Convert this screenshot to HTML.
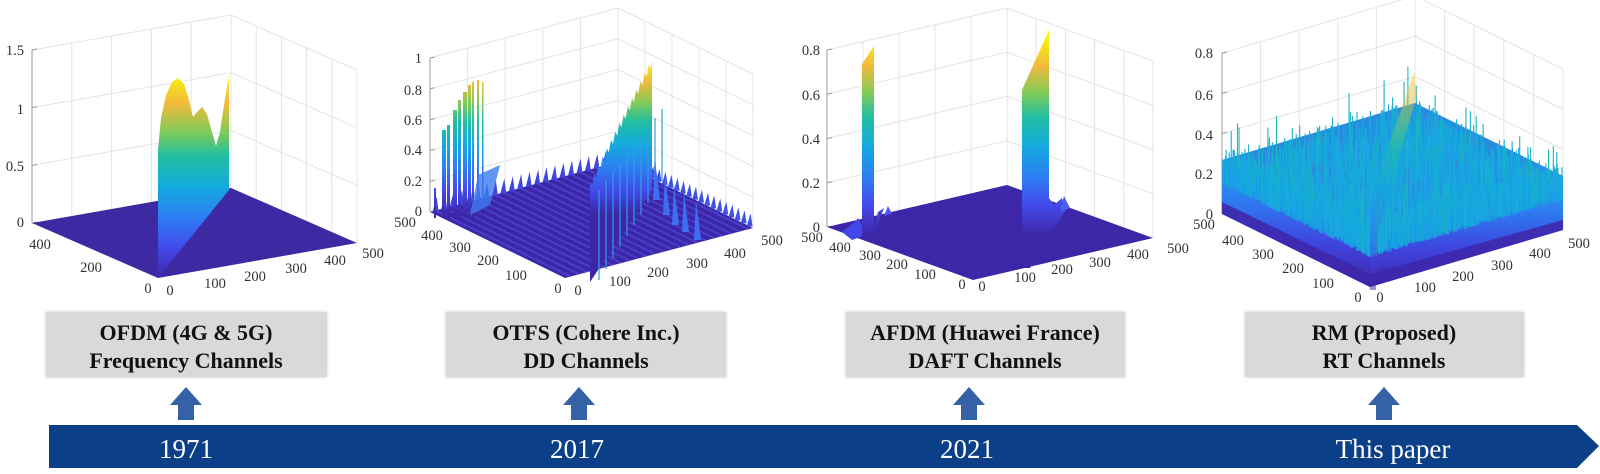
<!DOCTYPE html>
<html><head><meta charset="utf-8"><style>
html,body{margin:0;padding:0;background:#fff;width:1600px;height:474px;overflow:hidden}
svg{display:block}
text{font-family:"Liberation Serif",serif}
</style></head><body>
<svg id="s" width="1600" height="474" viewBox="0 0 1600 474" xmlns="http://www.w3.org/2000/svg">
<defs>
<filter id="sh" x="-5%" y="-10%" width="110%" height="120%"><feGaussianBlur stdDeviation="1.5"/></filter>
<linearGradient id="f4" x1="0" y1="1" x2="0" y2="0">
<stop offset="0" stop-color="#3e26a8"/><stop offset="0.35" stop-color="#3f45e0"/><stop offset="0.7" stop-color="#2c7ff0"/><stop offset="1" stop-color="#1aa6de"/>
</linearGradient>
</defs>
<g id="charts"></g>
<g>
<rect x="46" y="312" width="281" height="65" fill="#c8c8c8" filter="url(#sh)"/>
<rect x="46" y="312" width="281" height="65" fill="#d9d9d9"/>
<rect x="446" y="312" width="280" height="65" fill="#c8c8c8" filter="url(#sh)"/>
<rect x="446" y="312" width="280" height="65" fill="#d9d9d9"/>
<rect x="846" y="312" width="279" height="65" fill="#c8c8c8" filter="url(#sh)"/>
<rect x="846" y="312" width="279" height="65" fill="#d9d9d9"/>
<rect x="1245" y="312" width="279" height="65" fill="#c8c8c8" filter="url(#sh)"/>
<rect x="1245" y="312" width="279" height="65" fill="#d9d9d9"/>
</g>
<g font-weight="bold" font-size="22" fill="#111" text-anchor="middle">
<text x="186" y="340">OFDM (4G &amp; 5G)</text><text x="186" y="368">Frequency Channels</text>
<text x="586" y="340">OTFS (Cohere Inc.)</text><text x="586" y="368">DD Channels</text>
<text x="985" y="340">AFDM (Huawei France)</text><text x="985" y="368">DAFT Channels</text>
<text x="1384" y="340">RM (Proposed)</text><text x="1384" y="368">RT Channels</text>
</g>
<g fill="#3562a6" id="arrows"></g>
<polygon points="49,425 1577,425 1599,446 1577,468 49,468" fill="#0b3f87"/>
<g fill="#fff" font-size="27" text-anchor="middle">
<text x="186" y="458">1971</text>
<text x="577" y="458">2017</text>
<text x="967" y="458">2021</text>
<text x="1393" y="458">This paper</text>
</g>
</svg>
<script>
(function(){
var NS="http://www.w3.org/2000/svg";
var svg=document.getElementById('s'),defs=svg.querySelector('defs'),G=document.getElementById('charts');
function el(t,a,p){var e=document.createElementNS(NS,t);for(var k in a)e.setAttribute(k,a[k]);(p||G).appendChild(e);return e;}
function pt(a){return a.map(function(p){return p[0].toFixed(1)+','+p[1].toFixed(1)}).join(' ');}
var stops=[[0,'#3e26a8'],[0.15,'#4349ea'],[0.3,'#2c7ff2'],[0.45,'#14aadf'],[0.6,'#22bfa2'],[0.72,'#80cb58'],[0.86,'#f2b93c'],[1,'#f9f20f']];
function grad(id,y1,y2){var g=el('linearGradient',{id:id,gradientUnits:'userSpaceOnUse',x1:0,y1:y1,x2:0,y2:y2},defs);
stops.forEach(function(s){el('stop',{offset:s[0],'stop-color':s[1]},g);});}
function hex(c){return [parseInt(c.substr(1,2),16),parseInt(c.substr(3,2),16),parseInt(c.substr(5,2),16)];}
function cmap(t){t=Math.max(0,Math.min(1,t));for(var i=1;i<stops.length;i++){if(t<=stops[i][0]){var a=stops[i-1],b=stops[i],f=(t-a[0])/(b[0]-a[0]);var x=hex(a[1]),y=hex(b[1]);return 'rgb('+[0,1,2].map(function(k){return Math.round(x[k]+(y[k]-x[k])*f)}).join(',')+')';}}return stops[stops.length-1][1];}
function lerp(a,b,t){return [a[0]+(b[0]-a[0])*t,a[1]+(b[1]-a[1])*t];}
function axes(L,F,R,H,nz){
  var B=[L[0]+R[0]-F[0],L[1]+R[1]-F[1]];
  var c='#e4e4e4';
  for(var k=1;k<=nz;k++){var h=H*k/nz;
    el('line',{x1:L[0],y1:L[1]-h,x2:B[0],y2:B[1]-h,stroke:c,'stroke-width':1});
    el('line',{x1:B[0],y1:B[1]-h,x2:R[0],y2:R[1]-h,stroke:c,'stroke-width':1});}
  for(var t=0.2;t<1.01;t+=0.2){var p=lerp(L,B,t),q=lerp(B,R,t);
    el('line',{x1:p[0],y1:p[1],x2:p[0],y2:p[1]-H,stroke:c});
    el('line',{x1:q[0],y1:q[1],x2:q[0],y2:q[1]-H,stroke:c});}
  el('line',{x1:R[0],y1:R[1],x2:R[0],y2:R[1]-H,stroke:c});
  el('line',{x1:L[0],y1:L[1],x2:L[0],y2:L[1]-H,stroke:'#9a9a9a'});
  for(var k=0;k<=nz;k++){el('line',{x1:L[0],y1:L[1]-H*k/nz,x2:L[0]+5,y2:L[1]-H*k/nz-1,stroke:'#9a9a9a'});}
  return B;
}
function labels(arr,anchor){arr.forEach(function(a){var t=el('text',{x:a[1],y:a[2]+5,'font-size':14.5,fill:'#333','text-anchor':anchor||'middle'});t.textContent=a[0];});}
function rnd(seed){var s=seed;return function(){s=(s*16807)%2147483647;return (s-1)/2147483646;};}

/* ---------- Chart 1 ---------- */
var L=[32,223],F=[158,278],R=[357,243];
var B=axes(L,F,R,173,3);
el('polygon',{points:pt([L,F,R,B]),fill:'#3d2aa2'});
grad('g1',278,75);
el('polygon',{points:pt([[158,278],[158,150],[161,118],[166,95],[172,82],[178,78],[184,84],[189,100],[193,117],[197,112],[202,107],[207,114],[212,132],[216,146],[220,132],[224,105],[229,75],[229,190]]),fill:'url(#g1)'});
labels([['1.5',24,50],['1',24,109],['0.5',24,166],['0',24,222]],'end');
labels([['400',40,244],['200',91,267],['0',148,288],['0',170,290],['100',215,283],['200',255,276],['300',296,268],['400',335,260],['500',373,253]]);

/* ---------- Chart 2 ---------- */
L=[430,212];F=[565,278];R=[753,228];
B=axes(L,F,R,154,5);
el('polygon',{points:pt([L,F,R,B]),fill:'#3e26a8'});
grad('g2',214,60);
for(var t=0.03;t<1;t+=0.045){var p=lerp(L,B,t),q=lerp(F,R,t);
  el('line',{x1:p[0],y1:p[1],x2:q[0],y2:q[1],stroke:'#4f5cea','stroke-width':1.6,opacity:0.55});
  var r=lerp(B,R,t); el('polygon',{points:pt([[r[0]-3,r[1]],[r[0]+1,r[1]-13],[r[0]+3,r[1]]]),fill:'#3f52e6'});
  var s2=lerp(L,B,t); el('polygon',{points:pt([[s2[0]-3,s2[1]+1],[s2[0]+1,s2[1]-14],[s2[0]+3,s2[1]+1]]),fill:'#4046e0'});}
[[434,188,2],[442,130,4],[447,125,3],[453,110,4],[458,100,3],[463,92,4],[468,85,3],[472,82,2],[477,80,2],[482,82,1.5]].forEach(function(s){
  el('rect',{x:s[0],y:s[1],width:s[2],height:218-s[1],fill:'url(#g2)'});});
el('polygon',{points:pt([[470,215],[478,175],[500,165],[490,205]]),fill:'#3c7cf0',opacity:0.8});
var pts=[[590,282],[590,182]];
for(var i=0;i<=14;i++){var x=590+i*4.2,y=182-i*8.4;pts.push([x,y]);pts.push([x+2,y+4]);}
pts.push([652,60]);pts.push([652,190]);
el('polygon',{points:pt(pts),fill:'url(#g2)'});
for(var i=0;i<10;i++){var x=598+i*7,y=190-i*9;el('rect',{x:x,y:y,width:2,height:90-i*2,fill:'#2fa0e0',opacity:0.6});}
[[655,160],[665,175],[674,185],[684,192],[696,200]].forEach(function(s){el('polygon',{points:pt([[s[0]-2,s[1]+40],[s[0],s[1]],[s[0]+5,s[1]+40]]),fill:'#3d6ff2'});});
labels([['1',422,58],['0.8',422,90],['0.6',422,120],['0.4',422,150],['0.2',422,181],['0',422,211]],'end');
labels([['500',405,222],['400',432,235],['300',460,247],['200',488,260],['100',516,275],['0',558,288],['0',578,290],['100',620,281],['200',658,272],['300',697,263],['400',735,253],['500',772,240]]);

/* ---------- Chart 3 ---------- */
L=[827,227];F=[973,280];R=[1153,238];
B=axes(L,F,R,177,4);
el('polygon',{points:pt([L,F,R,B]),fill:'#3e26a8'});
grad('g3',235,38);
el('polygon',{points:pt([[842,232],[855,222],[858,218],[862,226],[862,205],[866,235],[852,240]]),fill:'#4348e8'});
el('polygon',{points:pt([[862,237],[862,64],[874,46],[874,228],[878,212],[884,208],[872,240]]),fill:'url(#g3)'});
el('polygon',{points:pt([[884,216],[888,206],[892,214]]),fill:'#4a55ee'});
el('polygon',{points:pt([[1016,268],[1022,255],[1022,90],[1049,30],[1049,198],[1054,205],[1062,198],[1066,210],[1030,268]]),fill:'url(#g3)'});
el('polygon',{points:pt([[1060,212],[1064,196],[1070,208]]),fill:'#4a5ef0'});
labels([['0.8',820,50],['0.6',820,95],['0.4',820,139],['0.2',820,183],['0',820,227]],'end');
labels([['500',812,237],['400',840,247],['300',870,255],['200',897,264],['100',925,274],['0',962,284],['0',982,286],['100',1025,277],['200',1062,269],['300',1100,262],['400',1138,254],['500',1178,248]]);

/* ---------- Chart 4 ---------- */
L=[1222,214];F=[1370,287];R=[1563,230];
B=axes(L,F,R,161,4);
var hs=200, th=0.27*hs;
var up=function(p,h){return [p[0],p[1]-h];};
el('polygon',{points:pt([up(L,th),up(F,th),up(R,th),up(B,th)]),fill:'#2a8ade'});
el('polygon',{points:pt([L,F,up(F,th),up(L,th)]),fill:'url(#f4)'});
el('polygon',{points:pt([F,R,up(R,th),up(F,th)]),fill:'url(#f4)'});
var r=rnd(12345),lines=[];
for(var i=0;i<5000;i++){var a=r(),b=r();
  if(i%3==0){ if(r()<0.5)a=a*0.06; else b=b*0.06; }
  var P=[F[0]+a*(L[0]-F[0])+b*(R[0]-F[0]),F[1]+a*(L[1]-F[1])+b*(R[1]-F[1])];
  var h=0.12+0.2*r()+(r()<0.06?0.18*r():0);
  lines.push([P,h]);}
lines.sort(function(x,y){return x[0][1]-y[0][1];});
var gg=el('g',{});
lines.forEach(function(l){var P=l[0],h=l[1];
  var c=cmap(0.25+h*0.55+0.08*r());
  var e=document.createElementNS(NS,'line');
  var y0=P[1]-Math.min(h*hs,th*0.55);
  e.setAttribute('x1',P[0].toFixed(1));e.setAttribute('y1',y0.toFixed(1));
  e.setAttribute('x2',P[0].toFixed(1));e.setAttribute('y2',(P[1]-h*hs).toFixed(1));
  e.setAttribute('stroke',c);e.setAttribute('stroke-width','1.1');gg.appendChild(e);});
grad('g4',287,60);
el('polygon',{points:pt([[1370,290],[1370,200],[1414,72],[1417,95],[1378,230],[1376,290]]),fill:'url(#g4)',opacity:0.5});
el('polygon',{points:pt([[1222,214],[1370,287],[1563,230],[1563,220],[1370,274],[1222,202]]),fill:'#3e26a8',opacity:0.85});
labels([['0.8',1213,53],['0.6',1213,95],['0.4',1213,135],['0.2',1213,174],['0',1213,214]],'end');
labels([['500',1204,224],['400',1233,240],['300',1263,254],['200',1293,268],['100',1323,283],['0',1358,297],['0',1380,297],['100',1425,287],['200',1463,276],['300',1502,265],['400',1540,253],['500',1579,243]]);

/* arrows */
var A=document.getElementById('arrows');
[186,579,969,1384].forEach(function(x){el('polygon',{points:pt([[x,387],[x+16,405],[x+8,405],[x+8,420],[x-8,420],[x-8,405],[x-16,405]])},A);});
})();
</script>
</body></html>
